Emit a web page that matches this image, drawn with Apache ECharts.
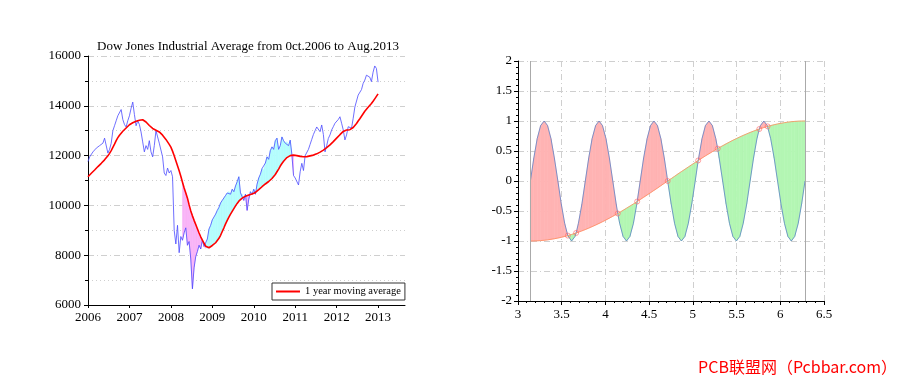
<!DOCTYPE html>
<html><head><meta charset="utf-8">
<script src="https://cdn.jsdelivr.net/npm/echarts@6/dist/echarts.min.js"></script>
<style>html,body{margin:0;padding:0;background:#fff}#c{width:900px;height:383px}</style>
</head><body><div id="c"></div>
<script>
// ---------- Left chart: Dow Jones ----------
const djiaTitle = 'Dow Jones Industrial Average from 0ct.2006 to Aug.2013';
const djiaStartYear = 2006;
const djiaStep = 0.04;
const djiaClose = [
 11760,11950,12000,12150,12100,12300,12250,12400,12350,12500,12700,12650,12100,12250,12500,13000,13200,13400,13600,13550,13850,13450,13250,13150,13400,
 13600,13900,14150,13650,13200,13400,13250,12950,12550,12150,12400,12250,12600,12150,11950,12400,13000,12750,12500,12450,11950,11300,11200,11500,11300,
 11400,11150,9000,8450,9200,8100,8750,8600,8900,9100,8400,8550,7850,6650,7500,7950,8150,8400,8250,8600,8350,8280,8650,9050,9200,
 9420,9500,9650,9800,9920,10100,10200,10300,10400,10500,10550,10450,10650,10550,10780,10950,11150,10500,10450,10200,10450,9800,10250,10550,10450,
 10650,10450,10850,11100,11250,11480,11420,11700,11950,11850,12200,12350,12250,12600,12700,12250,12400,12750,12600,12500,12550,12400,12620,12050,11200,
 11100,11150,10820,11350,11690,11400,12000,11950,12250,12450,12650,12850,13000,13150,13230,12960,13230,12850,12150,12400,12690,12830,13030,13160,13300,
 13250,13450,13560,13300,13030,12630,12830,13160,13230,13100,13500,13950,14030,14430,14500,14650,14900,15030,15230,15250,15150,14970,15350,15600,15500,
 14950
];
const djiaMA = [
 11150,11220,11290,11360,11420,11490,11560,11620,11690,11760,11830,11910,11990,12090,12200,12330,12460,12600,12720,12820,12900,12980,13050,13110,13180,
 13240,13290,13320,13350,13380,13400,13420,13440,13440,13400,13350,13280,13210,13150,13090,13050,13020,12990,12950,12890,12820,12740,12650,12550,12450,
 12340,12180,11990,11790,11590,11390,11170,10930,10700,10500,10290,10020,9780,9580,9400,9230,9060,8890,8740,8610,8480,8360,8280,8300,8340,
 8390,8440,8500,8580,8680,8800,8950,9100,9260,9400,9530,9650,9760,9870,9980,10080,10170,10240,10290,10330,10370,10400,10420,10440,10460,
 10480,10520,10580,10630,10690,10750,10810,10860,10910,10960,11020,11080,11150,11240,11350,11460,11580,11680,11770,11850,11920,11970,12000,12030,12020,
 12010,12000,11985,11970,11960,11955,11955,11960,11975,11990,12005,12020,12040,12070,12100,12140,12180,12220,12270,12320,12370,12430,12490,12560,12630,
 12700,12770,12840,12910,12970,13010,13030,13035,13040,13070,13130,13200,13290,13390,13480,13580,13680,13780,13860,13940,14010,14090,14180,14280,14380,
 14480
];
const fillStartYear = 2008.28;
const fillEndYear = 2010.96;
const yearTicks = [2006, 2007, 2008, 2009, 2010, 2011, 2012, 2013];
const legendLabel = '1 year moving average';

// ---------- Right chart: two curves ----------
const waveX = [
 3.142,3.181,3.220,3.259,3.299,3.338,3.377,3.416,3.456,3.495,3.534,3.570,3.573,3.613,3.652,3.665,3.691,3.731,
 3.770,3.809,3.848,3.888,3.927,3.966,4.006,4.045,4.084,4.123,4.141,4.163,4.202,4.241,4.280,4.320,4.359,4.363,
 4.398,4.437,4.477,4.516,4.555,4.595,4.634,4.673,4.712,4.752,4.791,4.830,4.869,4.909,4.948,4.987,5.027,5.061,
 5.066,5.105,5.144,5.184,5.223,5.262,5.284,5.301,5.341,5.380,5.419,5.458,5.498,5.537,5.576,5.616,5.655,5.694,
 5.733,5.760,5.773,5.812,5.851,5.855,5.890,5.930,5.969,6.008,6.048,6.087,6.126,6.165,6.205,6.244,6.283
];
const waveSin = [
 0,0.383,0.707,0.924,1,0.924,0.707,0.383,0,-0.383,-0.707,-0.910,-0.924,-1,-0.924,-0.866,-0.707,-0.383,
 0,0.383,0.707,0.924,1,0.924,0.707,0.383,0,-0.383,-0.541,-0.707,-0.924,-1,-0.924,-0.707,-0.383,-0.342,
 0,0.383,0.707,0.924,1,0.924,0.707,0.383,0,-0.383,-0.707,-0.924,-1,-0.924,-0.707,-0.383,0,0.342,
 0.383,0.707,0.924,1,0.924,0.707,0.540,0.383,0,-0.383,-0.707,-0.924,-1,-0.924,-0.707,-0.383,0,0.383,
 0.707,0.866,0.924,1,0.924,0.910,0.707,0.383,0,-0.383,-0.707,-0.924,-1,-0.924,-0.707,-0.383,0
];
const waveCos = [
 -1,-0.999,-0.997,-0.993,-0.988,-0.981,-0.972,-0.962,-0.951,-0.938,-0.924,-0.910,-0.908,-0.891,-0.873,-0.866,-0.853,-0.831,
 -0.809,-0.785,-0.760,-0.734,-0.707,-0.679,-0.649,-0.619,-0.588,-0.556,-0.541,-0.523,-0.489,-0.454,-0.419,-0.383,-0.346,-0.342,
 -0.309,-0.271,-0.233,-0.195,-0.156,-0.118,-0.078,-0.039,0,0.039,0.078,0.118,0.156,0.195,0.233,0.271,0.309,0.342,
 0.346,0.383,0.419,0.454,0.489,0.523,0.540,0.556,0.588,0.619,0.649,0.679,0.707,0.734,0.760,0.785,0.809,0.831,
 0.853,0.866,0.873,0.891,0.908,0.910,0.924,0.938,0.951,0.962,0.972,0.981,0.988,0.993,0.997,0.999,1
];
const refLines = [3.1416, 6.2832];
const watermark = 'PCB联盟网（Pcbbar.com）';

// ---------- build ----------
const serif = '"Liberation Serif","Times New Roman",serif';
const djiaX = djiaClose.map((_, i) => +(djiaStartYear + i * djiaStep).toFixed(2));
const closeData = djiaClose.map((v, i) => [djiaX[i], v]);
const maData = djiaMA.map((v, i) => [djiaX[i], v]);

// segments between two curves: [x0, x1, a0, a1, b0, b1]
function segments(xs, a, b, from, to) {
  const out = [];
  for (let i = from; i < to; i++) out.push([xs[i], xs[i + 1], a[i], a[i + 1], b[i], b[i + 1]]);
  return out;
}
function bandRender(colorAbove, colorBelow) {
  return function (params, api) {
    const x0 = api.value(0), x1 = api.value(1), a0 = api.value(2), a1 = api.value(3), b0 = api.value(4), b1 = api.value(5);
    const d0 = a0 - b0, d1 = a1 - b1;
    const children = [];
    const poly = (pts, color) => children.push({
      type: 'polygon', shape: { points: pts.map(p => api.coord(p)) },
      style: { fill: color, stroke: color, lineWidth: 0.6 }
    });
    if (d0 * d1 >= 0) {
      const d = d0 + d1;
      if (d === 0) return { type: 'group', children: [] };
      poly([[x0, a0], [x1, a1], [x1, b1], [x0, b0]], d > 0 ? colorAbove : colorBelow);
    } else {
      const t = d0 / (d0 - d1);
      const xc = x0 + t * (x1 - x0), yc = a0 + t * (a1 - a0);
      poly([[x0, a0], [xc, yc], [x0, b0]], d0 > 0 ? colorAbove : colorBelow);
      poly([[xc, yc], [x1, a1], [x1, b1]], d1 > 0 ? colorAbove : colorBelow);
    }
    return { type: 'group', children };
  };
}
let fi0 = djiaX.findIndex(x => x >= fillStartYear - 1e-9);
let fi1 = djiaX.findIndex(x => x >= fillEndYear - 1e-9);
const djiaSegs = segments(djiaX, djiaClose, djiaMA, fi0, fi1);
const waveSegs = segments(waveX, waveSin, waveCos, 0, waveX.length - 1);

const sinData = waveX.map((x, i) => [x, waveSin[i]]);
const cosData = waveX.map((x, i) => [x, waveCos[i]]);
const crossData = waveX.map((x, i) => [x, waveSin[i], waveCos[i]])
  .filter(p => Math.abs(p[1] - p[2]) < 1e-9).map(p => [p[0], p[1]]);

const axisFont = { color: '#000', fontFamily: serif, fontSize: 13 };
const blackLine = { color: '#000', width: 1 };
const dashDot = { color: '#cfcfcf', width: 1, type: [6, 3, 1, 3] };

const chart = echarts.init(document.getElementById('c'), null, { renderer: 'canvas' });
chart.setOption({
  animation: false,
  backgroundColor: '#fff',
  title: {
    text: djiaTitle, left: 97, top: 40, padding: 0,
    textStyle: { fontFamily: serif, fontSize: 13, fontWeight: 'normal', color: '#000' }
  },
  legend: {
    data: [legendLabel], left: 272, top: 283, icon: 'rect', itemWidth: 24, itemHeight: 2,
    borderColor: '#333', borderWidth: 1, padding: [3, 4, 3, 4], borderRadius: 0, itemGap: 4,
    textStyle: { fontFamily: serif, fontSize: 10.5, color: '#000' }
  },
  grid: [
    { left: 88, top: 56, width: 317, height: 249, outerBoundsMode: 'none' },
    { left: 518, top: 61, width: 306, height: 240, outerBoundsMode: 'none' }
  ],
  xAxis: [
    { gridIndex: 0, type: 'value', min: 2006, max: 2013.65, interval: 1,
      axisLine: { onZero: false, lineStyle: blackLine },
      axisTick: { customValues: yearTicks, length: 3, lineStyle: blackLine },
      axisLabel: Object.assign({ customValues: yearTicks, margin: 6,
        formatter: v => (Math.abs(v - Math.round(v)) < 1e-6 ? String(Math.round(v)) : '') }, axisFont),
      splitLine: { show: false } },
    { gridIndex: 1, type: 'value', min: 3, max: 6.5, interval: 0.5,
      axisLine: { onZero: false, lineStyle: blackLine },
      axisTick: { length: 4, lineStyle: blackLine },
      minorTick: { show: true, splitNumber: 5, length: 2, lineStyle: blackLine },
      axisLabel: Object.assign({ margin: 7, formatter: v => String(v) }, axisFont),
      splitLine: { show: true, lineStyle: dashDot } }
  ],
  yAxis: [
    { gridIndex: 0, type: 'value', min: 6000, max: 16000, interval: 2000,
      axisLine: { show: true, onZero: false, lineStyle: blackLine },
      axisTick: { show: true, length: 4, lineStyle: blackLine },
      minorTick: { show: true, splitNumber: 2, length: 3, lineStyle: blackLine },
      axisLabel: Object.assign({ margin: 7, formatter: v => String(v) }, axisFont),
      splitLine: { show: true, lineStyle: dashDot },
      minorSplitLine: { show: true, lineStyle: { color: '#cfcfcf', width: 1, type: [1, 3] } } },
    { gridIndex: 1, type: 'value', min: -2, max: 2, interval: 0.5,
      axisLine: { show: true, onZero: false, lineStyle: blackLine },
      axisTick: { show: true, length: 4, lineStyle: blackLine },
      minorTick: { show: true, splitNumber: 5, length: 2, lineStyle: blackLine },
      axisLabel: Object.assign({ margin: 6, formatter: v => String(v) }, axisFont),
      splitLine: { show: true, lineStyle: dashDot } }
  ],
  series: [
    { type: 'custom', xAxisIndex: 0, yAxisIndex: 0, data: djiaSegs, silent: true, z: 1,
      encode: { x: [0, 1], y: [2, 3, 4, 5] }, renderItem: bandRender('#b4fdfd', '#f9b4f7') },
    { type: 'line', xAxisIndex: 0, yAxisIndex: 0, data: closeData, symbol: 'none',
      lineStyle: { color: '#4a4aff', width: 0.8 }, color: '#4a4aff', z: 3 },
    { type: 'line', name: legendLabel, xAxisIndex: 0, yAxisIndex: 0, data: maData, symbol: 'none',
      lineStyle: { color: '#ff0000', width: 1.6 }, color: '#ff0000', z: 4 },

    { type: 'custom', xAxisIndex: 1, yAxisIndex: 1, data: waveSegs, silent: true, z: 1,
      encode: { x: [0, 1], y: [2, 3, 4, 5] }, renderItem: bandRender('#ffb3b3', '#b3f6b3') },
    { type: 'line', xAxisIndex: 1, yAxisIndex: 1, data: sinData, symbol: 'none',
      lineStyle: { color: '#5b82c8', width: 0.8 }, z: 3,
      markLine: { silent: true, symbol: 'none', label: { show: false },
        lineStyle: { color: '#aaaaaa', width: 1, type: 'solid' },
        data: refLines.map(v => ({ xAxis: v })) } },
    { type: 'line', xAxisIndex: 1, yAxisIndex: 1, data: cosData, symbol: 'none',
      lineStyle: { color: '#ff8a5c', width: 0.8 }, z: 3 },
    { type: 'scatter', xAxisIndex: 1, yAxisIndex: 1, data: crossData, symbol: 'circle', symbolSize: 5,
      itemStyle: { color: 'rgba(255,255,255,0)', borderColor: '#ff6a6a', borderWidth: 0.8 }, z: 4 }
  ],
  graphic: [
    { type: 'text', right: 3, top: 359, silent: true,
      style: { text: watermark, fill: '#ff0000', font: '16px "Noto Sans CJK SC", sans-serif' } }
  ]
});
</script></body></html>
